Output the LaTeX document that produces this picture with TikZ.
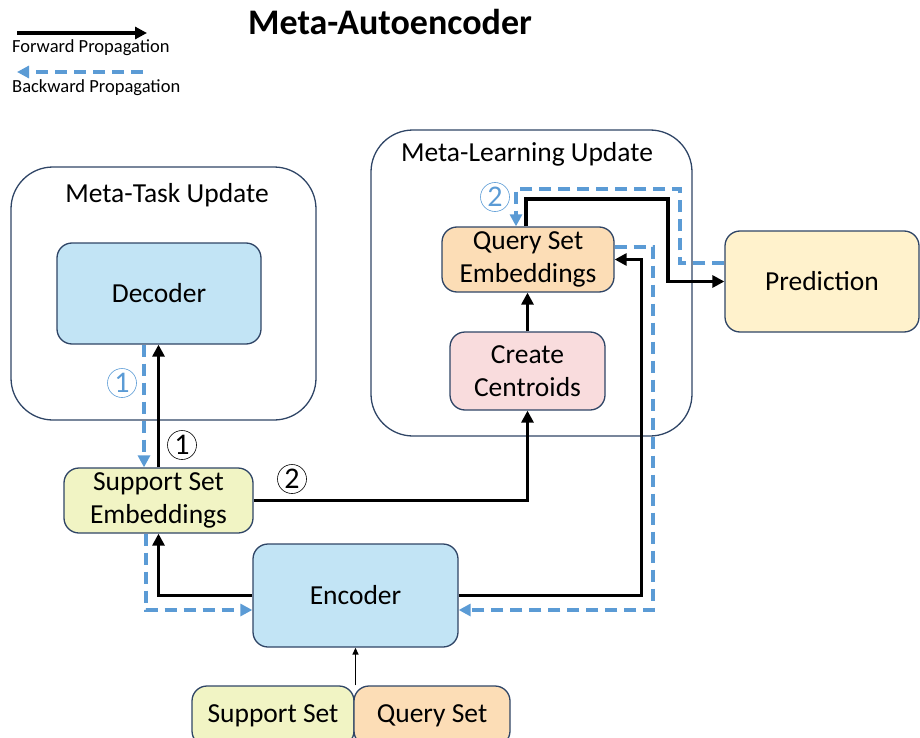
\documentclass[tikz,border=0pt]{standalone}
\usepackage{fontspec}
\setmainfont{Carlito}
\usetikzlibrary{arrows.meta,calc}
\definecolor{navy}{RGB}{47,69,102}
\definecolor{encblue}{RGB}{194,228,245}
\definecolor{peach}{RGB}{252,221,182}
\definecolor{pinkc}{RGB}{249,220,221}
\definecolor{predy}{RGB}{255,242,204}
\definecolor{suppy}{RGB}{241,244,196}
\definecolor{bwblue}{RGB}{91,155,213}
\tikzset{
  box/.style={draw=navy,line width=1.3pt,rounded corners=15pt,inner sep=0pt,align=center,font=\fontsize{27.5}{32.5}\selectfont},
  bigbox/.style={draw=navy,line width=1.3pt,rounded corners=42pt,inner sep=0pt},
  boxlabel/.style={font=\fontsize{27.5}{30}\selectfont,inner sep=0pt},
  fw/.style={line width=3.6pt,-{Triangle[length=12pt,width=12pt]}},
  fwthin/.style={line width=1.4pt,-{Triangle[length=7pt,width=6pt]}},
  bw/.style={line width=3.6pt,draw=bwblue,dash pattern=on 12pt off 7pt,-{Triangle[length=12pt,width=12pt]},color=bwblue},
  circnum/.style={circle,draw,line width=0.6pt,minimum size=29pt,inner sep=0pt,font=\fontsize{30}{30}\selectfont},
  legtext/.style={anchor=base west,inner sep=0pt,font=\fontsize{18.5}{20}\selectfont}
}
\begin{document}
\begin{tikzpicture}[x=1pt,y=-1pt]
\useasboundingbox (0,0) rectangle (920,738);
% title
\node[inner sep=0pt,font=\bfseries\fontsize{36}{38}\selectfont] (title) at (390,22) {Meta-Autoencoder};
% legend
\coordinate (lf1) at (17,33); \coordinate (lf2) at (147,33);
\draw[fw] (lf1) -- (lf2);
\node[legtext] (lft) at (12,53) {Forward Propagation};
\coordinate (lb1) at (143,72); \coordinate (lb2) at (17,72);
\draw[bw] (lb1) -- (lb2);
\node[legtext] (lbt) at (12,93) {Backward Propagation};
% big boxes
\node[bigbox,minimum width=305pt,minimum height=253pt] (mtu) at (163.5,293.5) {};
\node[boxlabel] (mtul) at (167,195) {Meta-Task Update};
\node[bigbox,minimum width=321pt,minimum height=306pt] (mlu) at (531.5,283) {};
\node[boxlabel] (mlul) at (527,154) {Meta-Learning Update};
% nodes
\node[box,fill=encblue,minimum width=204pt,minimum height=101pt] (dec) at (159,293.5) {Decoder};
\node[box,fill=peach,minimum width=172pt,minimum height=65pt] (qse) at (528,259.5) {Query Set\\Embeddings};
\node[box,fill=pinkc,minimum width=155pt,minimum height=78pt] (cc) at (527.5,371) {Create\\Centroids};
\node[box,fill=predy,minimum width=194pt,minimum height=101pt] (pred) at (822,281.5) {Prediction};
\node[box,fill=suppy,minimum width=189pt,minimum height=65pt] (sse) at (158.5,500.5) {Support Set\\Embeddings};
\node[box,fill=encblue,minimum width=205pt,minimum height=103pt] (enc) at (355.5,595.5) {Encoder};
\node[box,fill=suppy,minimum width=162pt,minimum height=60pt] (sup) at (273,716) {Support Set};
\node[box,fill=peach,minimum width=156pt,minimum height=60pt] (qry) at (432,716) {Query Set};
% forward arrows
\draw[fw] (enc.west) -| (sse.south);
\draw[fw] (sse.north) -- (sse.north |- dec.south);
\draw[fw] (sse.east) -| (cc.south);
\draw[fw] (cc.north) -- (cc.north |- qse.south);
\coordinate (fr1) at ($(qse.east)+(27,0)$);
\draw[fw] (enc.east) -| (fr1) -- (qse.east);
\coordinate (ft1) at (668,199);
\draw[fw] ([xshift=-2pt]qse.north) |- (ft1) |- (pred.west);
\draw[fwthin] (enc.south |- sup.north) -- (enc.south);
% backward arrows
\draw[bw] ([xshift=-15pt]dec.south) -- ([xshift=-15pt]dec.south |- sse.north);
\draw[bw] ([xshift=-12.5pt]sse.south) |- ([yshift=-14.5pt]enc.west);
\coordinate (br1) at (653,610);
\draw[bw] ([yshift=12.5pt]qse.east) -| (br1) -- ([yshift=-14.5pt]enc.east);
\coordinate (bt1) at (680,189);
\draw[bw] ([yshift=18.5pt]pred.west) -| (bt1) -| ([xshift=-12pt]qse.north);
% circled numbers
\node[circnum,draw=bwblue,text=bwblue] (c1b) at (122,383) {1};
\node[circnum] (c1) at (182,445) {1};
\node[circnum] (c2) at (292,479) {2};
\node[circnum,draw=bwblue,text=bwblue] (c2b) at (495,197) {2};
\end{tikzpicture}
\end{document}
